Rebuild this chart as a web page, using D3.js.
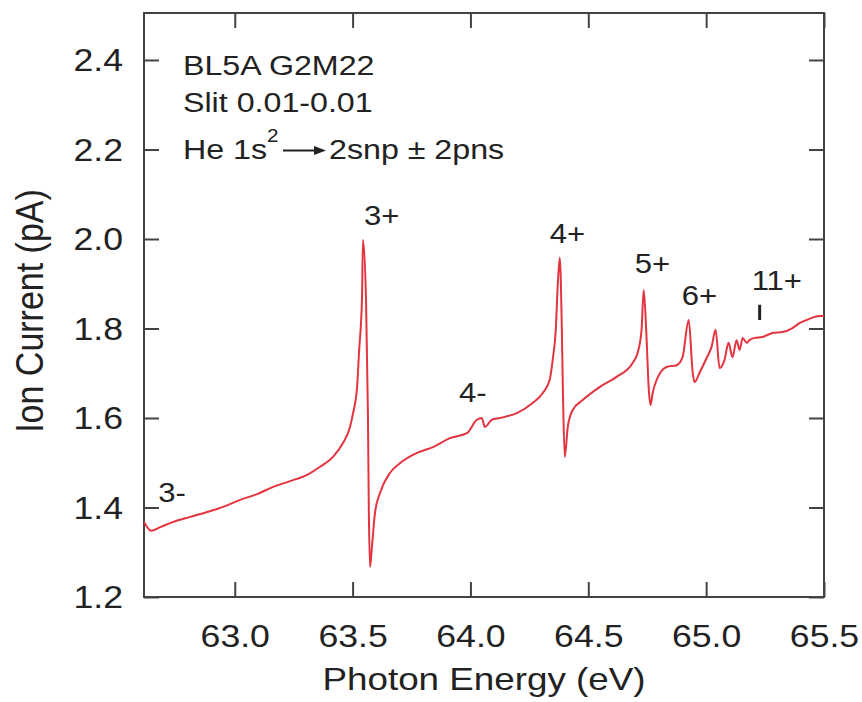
<html>
  <head>
    <meta charset="utf-8">
    <title>Ion Current vs Photon Energy</title>
  </head>
<style>
  body { margin: 0; background: #fff; }
  text { font-family: "Liberation Sans", Arial, Helvetica, sans-serif; fill: #222; }
</style>
<body>
<div id="chart"></div>
<script src="https://cdnjs.cloudflare.com/ajax/libs/d3/7.8.5/d3.min.js"></script>
<script>
  // data
  var energy = [62.615, 62.645, 62.684, 62.739, 62.811, 62.883, 62.959, 63.023, 63.095, 63.163,
    63.235, 63.307, 63.362, 63.417, 63.459, 63.489, 63.502, 63.519, 63.527, 63.540,
    63.544, 63.557, 63.565, 63.569, 63.574, 63.582, 63.595, 63.616, 63.658, 63.701,
    63.773, 63.841, 63.913, 63.985, 64.027, 64.048, 64.061, 64.091, 64.125, 64.197,
    64.265, 64.307, 64.336, 64.349, 64.362, 64.370, 64.379, 64.387, 64.392, 64.400,
    64.413, 64.434, 64.476, 64.548, 64.620, 64.688, 64.709, 64.726, 64.735, 64.747,
    64.756, 64.764, 64.773, 64.790, 64.832, 64.875, 64.900, 64.926, 64.943, 64.951,
    64.972, 65.002, 65.023, 65.040, 65.057, 65.078, 65.095, 65.112, 65.129, 65.142,
    65.155, 65.172, 65.184, 65.205, 65.239, 65.282, 65.324, 65.366, 65.396, 65.426,
    65.481, 65.500];
  var current = [1.368, 1.348, 1.356, 1.368, 1.379, 1.390, 1.403, 1.417, 1.430, 1.446,
    1.459, 1.473, 1.491, 1.513, 1.544, 1.580, 1.611, 1.669, 1.745, 1.870,
    1.998, 1.864, 1.611, 1.388, 1.267, 1.312, 1.388, 1.432, 1.477, 1.499,
    1.522, 1.535, 1.555, 1.566, 1.596, 1.600, 1.580, 1.596, 1.600, 1.611,
    1.634, 1.656, 1.685, 1.730, 1.797, 1.893, 1.958, 1.819, 1.669, 1.513,
    1.580, 1.618, 1.640, 1.669, 1.692, 1.723, 1.745, 1.797, 1.886, 1.781,
    1.669, 1.629, 1.656, 1.685, 1.714, 1.718, 1.736, 1.819, 1.701, 1.680,
    1.701, 1.734, 1.759, 1.797, 1.712, 1.730, 1.768, 1.736, 1.774, 1.752,
    1.779, 1.768, 1.774, 1.779, 1.781, 1.790, 1.792, 1.801, 1.812, 1.819,
    1.828, 1.828];

  var xTicks = [63.0, 63.5, 64.0, 64.5, 65.0, 65.5];
  var yTicks = [1.2, 1.4, 1.6, 1.8, 2.0, 2.2, 2.4];

  // resonance labels, anchored at (energy, current)
  var peakNames = ["3-", "3+", "4-", "4+", "5+", "6+", "11+"];
  var peakEnergy = [62.675, 63.548, 63.951, 64.336, 64.697, 64.896, 65.193];
  var peakCurrent = [1.412, 2.031, 1.636, 1.991, 1.924, 1.853, 1.886];
  var seriesLimitEnergy = 65.227;
  var seriesLimitCurrent = [1.853, 1.819];

  var headerLines = ["BL5A G2M22", "Slit 0.01-0.01"];

  var width = 862, height = 702;
  var plotLeft = 144, plotRight = 824, plotTop = 13, plotBottom = 597;
  var sx = 1.15;        // glyphs in the picture are a bit wide
  var lineColor = "#e3343f";
  var axisColor = "#444";

  var svg = d3.select("#chart").append("svg")
      .attr("width", width)
      .attr("height", height);

  var x = d3.scaleLinear().domain([62.615, 65.5]).range([plotLeft, plotRight]);
  var y = d3.scaleLinear().domain([1.2, 2.505]).range([plotBottom, plotTop]);

  // axes, ticks pointing inward
  var gx = svg.append("g").attr("transform", "translate(0," + plotBottom + ")")
      .call(d3.axisBottom(x).tickValues(xTicks).tickFormat(d3.format(".1f"))
        .tickSizeInner(-15).tickSizeOuter(0).tickPadding(28));
  var gy = svg.append("g").attr("transform", "translate(" + plotLeft + ",0)")
      .call(d3.axisLeft(y).tickValues(yTicks).tickFormat(d3.format(".1f"))
        .tickSizeInner(-15).tickSizeOuter(0));
  svg.append("g").attr("transform", "translate(0," + plotTop + ")")
      .call(d3.axisTop(x).tickValues(xTicks).tickFormat("").tickSizeInner(-15).tickSizeOuter(0));
  svg.append("g").attr("transform", "translate(" + plotRight + ",0)")
      .call(d3.axisRight(y).tickValues(yTicks).tickFormat("").tickSizeInner(-15).tickSizeOuter(0));

  svg.selectAll(".domain").remove();
  svg.selectAll(".tick line").attr("stroke", axisColor).attr("stroke-width", 2);

  gx.selectAll("text")
      .attr("font-size", 31).attr("fill", "#222")
      .attr("font-family", "'Liberation Sans', Arial, sans-serif")
      .attr("transform", "scale(" + sx + ",1)");
  gy.selectAll("text")
      .attr("font-size", 31).attr("fill", "#222")
      .attr("font-family", "'Liberation Sans', Arial, sans-serif")
      .attr("x", -21 / sx).attr("dy", "0.34em")
      .attr("transform", "scale(" + sx + ",1)");

  svg.append("rect")
      .attr("x", plotLeft).attr("y", plotTop)
      .attr("width", plotRight - plotLeft).attr("height", plotBottom - plotTop)
      .attr("fill", "none").attr("stroke", axisColor).attr("stroke-width", 2);

  // spectrum
  var line = d3.line()
      .curve(d3.curveMonotoneX)
      .x(function(d, i) { return x(energy[i]); })
      .y(function(d, i) { return y(current[i]); });

  svg.append("path")
      .datum(energy)
      .attr("d", line)
      .attr("fill", "none")
      .attr("stroke", lineColor)
      .attr("stroke-width", 2)
      .attr("stroke-linejoin", "round");

  // peak labels
  svg.selectAll(".peak").data(peakNames).enter().append("text")
      .attr("class", "peak")
      .attr("transform", function(d, i) {
        return "translate(" + x(peakEnergy[i]) + "," + y(peakCurrent[i]) + ") scale(" + sx + ",1)";
      })
      .attr("font-size", 27)
      .text(function(d) { return d; });

  svg.append("line")
      .attr("x1", x(seriesLimitEnergy)).attr("x2", x(seriesLimitEnergy))
      .attr("y1", y(seriesLimitCurrent[0])).attr("y2", y(seriesLimitCurrent[1]))
      .attr("stroke", "#222").attr("stroke-width", 3);

  // header text
  svg.selectAll(".hdr").data(headerLines).enter().append("text")
      .attr("class", "hdr")
      .attr("transform", function(d, i) { return "translate(183," + (75 + i * 37) + ") scale(" + sx + ",1)"; })
      .attr("font-size", 28)
      .text(function(d) { return d; });

  svg.append("text").attr("transform", "translate(183,159) scale(" + sx + ",1)")
      .attr("font-size", 28).text("He 1s");
  svg.append("text").attr("transform", "translate(267,142) scale(" + sx + ",1)")
      .attr("font-size", 18).text("2");
  svg.append("line").attr("x1", 283).attr("x2", 316).attr("y1", 150.5).attr("y2", 150.5)
      .attr("stroke", "#222").attr("stroke-width", 2);
  svg.append("path").attr("d", "M314,146 L326,150.5 L314,155 Z").attr("fill", "#222");
  svg.append("text").attr("transform", "translate(329,159) scale(" + sx + ",1)")
      .attr("font-size", 28).text("2snp \u00B1 2pns");

  // axis titles
  svg.append("text")
      .attr("transform", "translate(" + ((plotLeft + plotRight) / 2) + ",690) scale(" + sx + ",1)")
      .attr("text-anchor", "middle")
      .attr("font-size", 32)
      .text("Photon Energy (eV)");
  svg.append("text")
      .attr("transform", "translate(43,311) scale(" + sx + ",1) rotate(-90)")
      .attr("text-anchor", "middle")
      .attr("font-size", 34)
      .text("Ion Current (pA)");
</script>
</body>
</html>
